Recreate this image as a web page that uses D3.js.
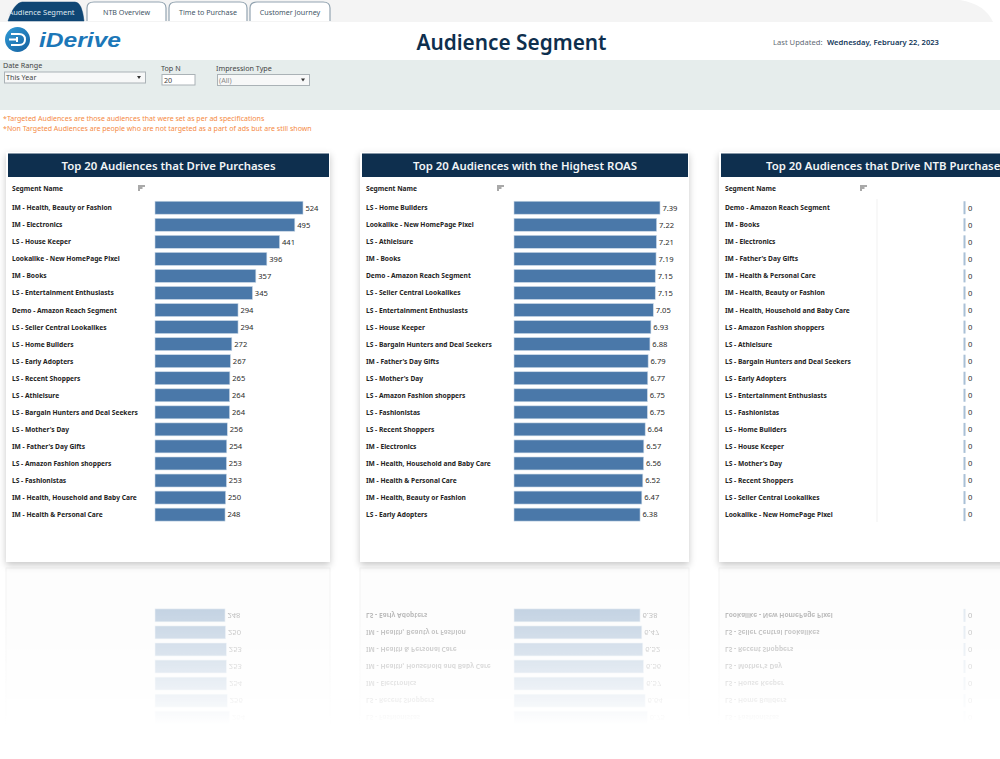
<!DOCTYPE html>
<html>
<head>
<meta charset="utf-8">
<script src="https://cdn.jsdelivr.net/npm/d3@7"></script>
<style>
    html, body { margin: 0; padding: 0; background: #fff; }
    svg { display: block; }
    text { font-family: "Noto Sans", "Open Sans", sans-serif; }
</style>
</head>
<body>
<div id="chart"></div>
<script>
// chart data
const tabLabels = ["Audience Segment", "NTB Overview", "Time to Purchase", "Customer Journey"];
const notes = [
    "*Targeted Audiences are those audiences that were set as per ad specifications",
    "*Non Targeted Audiences are people who are not targeted as a part of ads but are still shown"
];

const purchaseNames = ["IM - Health, Beauty or Fashion", "IM - Electronics", "LS - House Keeper", "Lookalike - New HomePage Pixel",
    "IM - Books", "LS - Entertainment Enthusiasts", "Demo - Amazon Reach Segment", "LS - Seller Central Lookalikes",
    "LS - Home Builders", "LS - Early Adopters", "LS - Recent Shoppers", "LS - Athleisure",
    "LS - Bargain Hunters and Deal Seekers", "LS - Mother's Day", "IM - Father's Day Gifts", "LS - Amazon Fashion shoppers",
    "LS - Fashionistas", "IM - Health, Household and Baby Care", "IM - Health & Personal Care"];
const purchaseValues = [524, 495, 441, 396, 357, 345, 294, 294, 272, 267, 265, 264, 264, 256, 254, 253, 253, 250, 248];

const roasNames = ["LS - Home Builders", "Lookalike - New HomePage Pixel", "LS - Athleisure", "IM - Books",
    "Demo - Amazon Reach Segment", "LS - Seller Central Lookalikes", "LS - Entertainment Enthusiasts", "LS - House Keeper",
    "LS - Bargain Hunters and Deal Seekers", "IM - Father's Day Gifts", "LS - Mother's Day", "LS - Amazon Fashion shoppers",
    "LS - Fashionistas", "LS - Recent Shoppers", "IM - Electronics", "IM - Health, Household and Baby Care",
    "IM - Health & Personal Care", "IM - Health, Beauty or Fashion", "LS - Early Adopters"];
const roasValues = [7.39, 7.22, 7.21, 7.19, 7.15, 7.15, 7.05, 6.93, 6.88, 6.79, 6.77, 6.75, 6.75, 6.64, 6.57, 6.56, 6.52, 6.47, 6.38];

const ntbNames = ["Demo - Amazon Reach Segment", "IM - Books", "IM - Electronics", "IM - Father's Day Gifts",
    "IM - Health & Personal Care", "IM - Health, Beauty or Fashion", "IM - Health, Household and Baby Care",
    "LS - Amazon Fashion shoppers", "LS - Athleisure", "LS - Bargain Hunters and Deal Seekers", "LS - Early Adopters",
    "LS - Entertainment Enthusiasts", "LS - Fashionistas", "LS - Home Builders", "LS - House Keeper",
    "LS - Mother's Day", "LS - Recent Shoppers", "LS - Seller Central Lookalikes", "Lookalike - New HomePage Pixel"];
const ntbValues = [0, 0, 0, 0, 0, 0, 0, 0, 0, 0, 0, 0, 0, 0, 0, 0, 0, 0, 0];

const panels = [
    { title: "Top 20 Audiences that Drive Purchases", names: purchaseNames, values: purchaseValues, left: 6, cardW: 324, headW: 321, iconX: 138, barX: 155, domainMax: 524, rangeW: 148, fmt: d3.format("d"), mirrorNames: false },
    { title: "Top 20 Audiences with the Highest ROAS", names: roasNames, values: roasValues, left: 360, cardW: 329, headW: 326, iconX: 497, barX: 514, domainMax: 7.39, rangeW: 146, fmt: d3.format(".2f"), mirrorNames: true },
    { title: "Top 20 Audiences that Drive NTB Purchases", names: ntbNames, values: ntbValues, left: 719, cardW: 340, headW: 330, iconX: 860, barX: 963.5, domainMax: 1, rangeW: 30, fmt: d3.format("d"), mirrorNames: true, divider: 877 }
];

const width = 1000, height = 759;
const navy = "#0e2f4e", barBlue = "#4a78a9";
const mirrorRows = 7;

const svg = d3.select("#chart").append("svg")
    .attr("width", width)
    .attr("height", height);

const defs = svg.append("defs");

const shadow = defs.append("filter").attr("id", "cardShadow")
    .attr("x", "-5%").attr("y", "-5%").attr("width", "110%").attr("height", "110%");
shadow.append("feDropShadow")
    .attr("dx", 0).attr("dy", 3).attr("stdDeviation", 3.5)
    .attr("flood-color", "#000").attr("flood-opacity", 0.22);

const logoGrad = defs.append("linearGradient").attr("id", "logoGrad")
    .attr("x1", 0).attr("x2", 1).attr("y1", 0).attr("y2", 1);
logoGrad.append("stop").attr("offset", 0).attr("stop-color", "#2f9ad6");
logoGrad.append("stop").attr("offset", 1).attr("stop-color", "#15609f");

// fade for the mirrored copy under the cards
const fade = defs.append("linearGradient").attr("id", "fadeGrad")
    .attr("gradientUnits", "userSpaceOnUse")
    .attr("x1", 0).attr("x2", 0).attr("y1", 605).attr("y2", 725);
fade.append("stop").attr("offset", 0).attr("stop-color", "#fff").attr("stop-opacity", 0.34);
fade.append("stop").attr("offset", 1).attr("stop-color", "#fff").attr("stop-opacity", 0);
defs.append("mask").attr("id", "fadeMask")
    .attr("maskUnits", "userSpaceOnUse")
    .attr("x", 0).attr("y", 566).attr("width", width).attr("height", 190)
    .append("rect")
    .attr("x", 0).attr("y", 566).attr("width", width).attr("height", 190)
    .attr("fill", "url(#fadeGrad)");

// header strip, rounded off at the top right
svg.append("path")
    .attr("d", "M0,0H960Q985,4 993,22H0Z")
    .attr("fill", "#f4f4f4");

const tabs = svg.append("g");
const tabEdges = [[8, 84], [87, 166], [169, 247], [250, 330]];
tabLabels.forEach((label, i) => {
    const [x0, x1] = tabEdges[i];
    tabs.append("path")
        .attr("d", i === 0
            ? `M${x0},21Q${x0 + 6},3 ${x0 + 14},2H${x1 - 9}Q${x1 - 2},2 ${x1},21Z`
            : `M${x0},21V8Q${x0},2 ${x0 + 7},2H${x1 - 7}Q${x1},2 ${x1},8V21`)
        .attr("fill", i === 0 ? "#0f4674" : "#fff")
        .attr("stroke", i === 0 ? "#0f4674" : "#93a4b1")
        .attr("stroke-width", i === 0 ? 0.5 : 1.2);
    tabs.append("text")
        .attr("x", i === 0 ? 41.5 : (x0 + x1) / 2)
        .attr("y", 15)
        .attr("text-anchor", "middle")
        .attr("font-size", i === 0 ? 7.5 : 7.15)
        .attr("fill", i === 0 ? "#dfe8ef" : "#3f5566")
        .text(label);
});

// logo
const logo = svg.append("g");
logo.append("circle").attr("cx", 17.5).attr("cy", 39.5).attr("r", 12.5).attr("fill", "url(#logoGrad)");
logo.append("path")
    .attr("d", "M11,34H19Q25,34 25,39.5Q25,45 19,45H11M9,39.5H18M17,37V42")
    .attr("fill", "none").attr("stroke", "#fff").attr("stroke-width", 2);
logo.append("text").attr("x", 39).attr("y", 46.5)
    .style("font-family", "'Liberation Sans', sans-serif")
    .attr("font-size", 21).attr("font-weight", 700)
    .attr("font-style", "italic").attr("fill", "#1c77b8")
    .attr("textLength", 82).attr("lengthAdjust", "spacingAndGlyphs")
    .text("iDerive");

svg.append("text").attr("x", 511.5).attr("y", 50).attr("text-anchor", "middle")
    .attr("font-size", 20.8).attr("font-weight", 600).attr("fill", navy).text("Audience Segment");

svg.append("text").attr("x", 773).attr("y", 45).attr("font-size", 7.6).attr("fill", "#5f6b75").text("Last Updated:");
svg.append("text").attr("x", 827).attr("y", 45).attr("font-size", 7.6).attr("font-weight", 600).attr("fill", "#12375a")
    .text("Wednesday, February 22, 2023");

// filter band
svg.append("rect").attr("x", 0).attr("y", 60).attr("width", width).attr("height", 50).attr("fill", "#e6edec");

const filters = svg.append("g").attr("font-size", 7.2).attr("fill", "#444");
function dropdown(label, value, x, y, w, labelY, textFill) {
    filters.append("text").attr("x", x).attr("y", labelY).text(label);
    filters.append("rect").attr("x", x + 1.5).attr("y", y).attr("width", w).attr("height", 11)
        .attr("fill", "#f7f8f8").attr("stroke", "#aab2b6");
    filters.append("text").attr("x", x + 3).attr("y", y + 8).attr("fill", textFill).text(value);
    const ax = x + w - 5, ay = y + 4;
    filters.append("path").attr("d", `M${ax - 2},${ay}h4l-2,3Z`).attr("fill", "#333");
}
dropdown("Date Range", "This Year", 3, 72, 141, 68, "#444");
dropdown("Impression Type", "(All)", 216, 74.5, 92, 71, "#8a8a8a");
filters.append("text").attr("x", 161).attr("y", 71).text("Top N");
filters.append("rect").attr("x", 162).attr("y", 74.5).attr("width", 33).attr("height", 10.5)
    .attr("fill", "#fff").attr("stroke", "#aab2b6");
filters.append("text").attr("x", 164).attr("y", 82.5).text("20");

svg.append("g").selectAll("text").data(notes).join("text")
    .attr("x", 3)
    .attr("y", (d, i) => 121 + i * 10.3)
    .attr("font-size", 7.05)
    .attr("fill", "#f58a45")
    .text(d => d);

// one card of the dashboard, also used for the mirrored copy
function drawPanel(parent, p, mirrored) {
    const g = parent.append("g");
    const y = d3.scaleBand().domain(p.names)
        .range([199.2, 199.2 + 17.05 * p.names.length])
        .paddingInner(0.24).paddingOuter(0.12);
    const x = d3.scaleLinear().domain([0, p.domainMax]).range([0, p.rangeW]);

    g.append("rect")
        .attr("x", p.left).attr("y", 152).attr("width", p.cardW).attr("height", 410)
        .attr("fill", mirrored ? "#f8f8f8" : "#fff")
        .attr("stroke", mirrored ? "#ddd" : "none")
        .attr("filter", mirrored ? null : "url(#cardShadow)");

    // the reflection only reaches the last rows
    const first = mirrored ? p.names.length - mirrorRows : 0;
    const rowNames = p.names.slice(first);
    const rowValues = p.values.slice(first);

    if (!mirrored) {
        g.append("rect")
            .attr("x", p.left + 2).attr("y", 153.5).attr("width", p.headW).attr("height", 23.5)
            .attr("fill", navy);
        g.append("text")
            .attr("x", p.left + 2 + p.headW / 2).attr("y", 170)
            .attr("text-anchor", "middle").attr("font-size", 11.4).attr("font-weight", 600).attr("fill", "#f2f5f7")
            .text(p.title);
        g.append("text")
            .attr("x", p.left + 6).attr("y", 191)
            .attr("font-size", 6.65).attr("font-weight", 700).attr("fill", "#222")
            .text("Segment Name");
        // sort icon
        [7, 4.5, 2].forEach((w, i) => {
            g.append("rect").attr("x", p.iconX).attr("y", 185.5 + i * 2)
                .attr("width", w).attr("height", 1).attr("fill", "#555");
        });
        if (p.divider) {
            g.append("line")
                .attr("x1", p.divider).attr("x2", p.divider).attr("y1", 199).attr("y2", 522)
                .attr("stroke", "#f1f1f1");
        }
    }

    if (!mirrored || p.mirrorNames) {
        g.selectAll(".name").data(rowNames).join("text")
            .attr("class", "name")
            .attr("x", p.left + 6)
            .attr("y", d => y(d) + y.bandwidth() / 2 + 2.5)
            .attr("font-size", 6.65)
            .attr("font-weight", 700)
            .attr("fill", "#222")
            .text(d => d);
    }

    rowValues.forEach((v, i) => {
        const name = rowNames[i];
        const barW = Math.max(x(v), 2);
        g.append("rect")
            .attr("x", p.barX)
            .attr("y", y(name))
            .attr("width", barW)
            .attr("height", y.bandwidth())
            .attr("fill", v === 0 ? "#a9c0d6" : barBlue)
            .attr("stroke", v === 0 ? "none" : "#c9d8e6")
            .attr("stroke-width", 0.6);
        g.append("text")
            .attr("x", p.barX + barW + 2.4)
            .attr("y", y(name) + y.bandwidth() / 2 + 2.8)
            .attr("font-size", 7.6)
            .attr("fill", "#2b2b2b")
            .text(p.fmt(v));
    });
}

const mirror = svg.append("g")
    .attr("mask", "url(#fadeMask)")
    .append("g")
    .attr("transform", "translate(0," + (2 * 565) + ") scale(1,-1)");
panels.forEach(p => drawPanel(mirror, p, true));

panels.forEach(p => drawPanel(svg, p, false));
</script>
</body>
</html>
